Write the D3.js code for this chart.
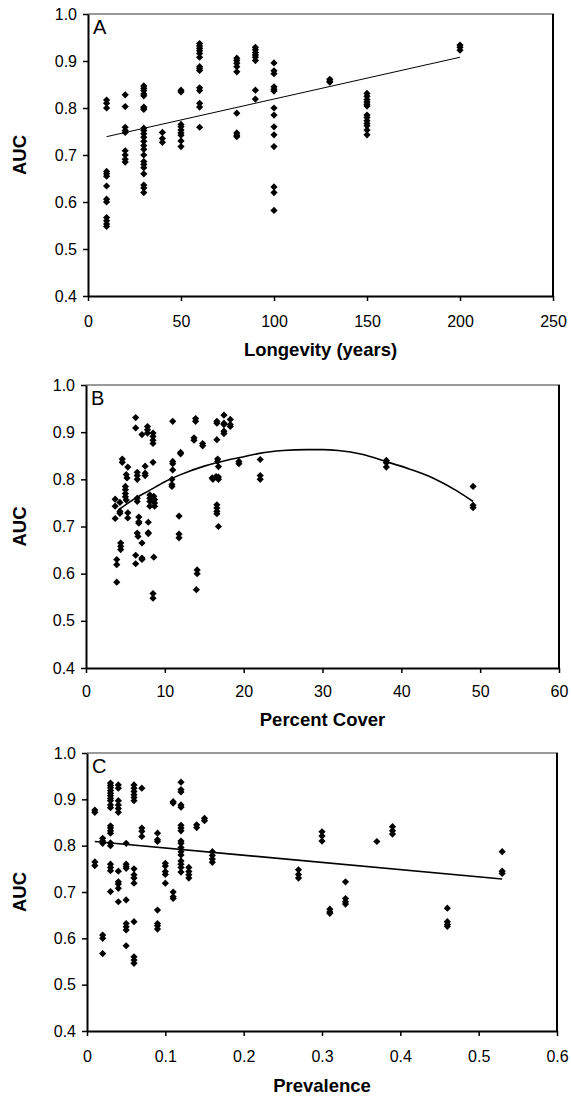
<!DOCTYPE html>
<html>
<head>
<meta charset="utf-8">
<script src="https://cdn.jsdelivr.net/npm/d3@7"></script>
<style>
  html, body { margin: 0; padding: 0; background: #fff; }
  svg { display: block; font-family: Arial, "Liberation Sans", sans-serif; }
</style>
</head>
<body>
<svg id="chart" width="571" height="1097"></svg>
<script>
// ---------- DATA ----------
const yTicks = [0.4, 0.5, 0.6, 0.7, 0.8, 0.9, 1.0];
const yTickLabels = ["0.4", "0.5", "0.6", "0.7", "0.8", "0.9", "1.0"];

// Panel A: Longevity (years)
const aXTicks = [0, 50, 100, 150, 200, 250];
const aXTickLabels = ["0", "50", "100", "150", "200", "250"];
const longevityGroups = [10, 20, 30, 40, 50, 60, 80, 90, 100, 130, 150, 200];
const longevityAUC = [
  [0.817, 0.81, 0.80, 0.665, 0.66, 0.655, 0.634, 0.606, 0.60, 0.567, 0.56, 0.553, 0.548],
  [0.828, 0.803, 0.759, 0.752, 0.748, 0.709, 0.70, 0.691, 0.685],
  [0.847, 0.842, 0.837, 0.83, 0.826, 0.802, 0.80, 0.797, 0.757, 0.752, 0.745, 0.738, 0.729, 0.72, 0.712, 0.70, 0.686, 0.68, 0.673, 0.66, 0.636, 0.63, 0.62],
  [0.748, 0.735, 0.727],
  [0.838, 0.834, 0.765, 0.76, 0.753, 0.747, 0.742, 0.73, 0.718],
  [0.937, 0.932, 0.927, 0.922, 0.916, 0.908, 0.888, 0.884, 0.88, 0.843, 0.837, 0.81, 0.802, 0.759],
  [0.906, 0.901, 0.895, 0.888, 0.877, 0.789, 0.747, 0.742, 0.739],
  [0.929, 0.924, 0.918, 0.913, 0.908, 0.901, 0.838, 0.819],
  [0.896, 0.879, 0.873, 0.845, 0.84, 0.836, 0.80, 0.785, 0.76, 0.743, 0.718, 0.632, 0.62, 0.582],
  [0.861, 0.857, 0.855],
  [0.831, 0.825, 0.818, 0.813, 0.808, 0.804, 0.785, 0.78, 0.773, 0.767, 0.762, 0.753, 0.743],
  [0.934, 0.929, 0.923]
];
const longevityTrend = [[10, 0.739], [200, 0.908]];

// Panel B: Percent Cover
const bXTicks = [0, 10, 20, 30, 40, 50, 60];
const bXTickLabels = ["0", "10", "20", "30", "40", "50", "60"];
const coverPoints = [
  [3.7,0.758],[3.7,0.743],[3.7,0.717],[3.9,0.63],[3.9,0.619],[3.9,0.582],
  [4.3,0.751],[4.3,0.732],[4.3,0.728],[4.6,0.843],[4.6,0.836],[4.4,0.665],[4.4,0.658],[4.4,0.651],
  [5.3,0.826],[5.1,0.81],[5.2,0.803],[5.0,0.785],[5.0,0.778],[5.0,0.77],[5.0,0.763],[5.1,0.756],[5.3,0.729],[5.3,0.718],
  [6.3,0.931],[6.3,0.909],[6.5,0.815],[6.5,0.808],[6.5,0.80],[6.5,0.76],[6.5,0.753],[6.3,0.639],[6.3,0.621],[6.5,0.686],[6.6,0.679],[6.7,0.72],[6.7,0.71],[6.7,0.707],
  [7.1,0.665],[7.1,0.633],[7.1,0.63],[7.1,0.895],[7.5,0.828],[7.5,0.813],[7.5,0.808],[7.8,0.912],[7.8,0.905],[7.8,0.898],[7.9,0.709],[7.9,0.687],[7.9,0.685],
  [8.1,0.767],[8.1,0.76],[8.1,0.753],[8.1,0.743],[8.5,0.898],[8.5,0.891],[8.5,0.883],[8.5,0.876],[8.5,0.836],[8.6,0.764],[8.7,0.757],[8.7,0.75],[8.7,0.743],[8.6,0.635],[8.5,0.558],[8.5,0.548],
  [11.0,0.923],[11.0,0.838],[11.0,0.833],[11.0,0.82],[10.9,0.80],[10.9,0.789],[10.9,0.785],[12.0,0.857],[12.0,0.854],[11.8,0.722],[11.8,0.684],[11.8,0.676],
  [13.9,0.929],[13.9,0.923],[13.7,0.888],[13.7,0.883],[14.1,0.608],[14.1,0.60],[14.0,0.566],[14.8,0.876],[14.8,0.871],
  [16.0,0.803],[16.1,0.80],[16.5,0.806],[16.6,0.923],[16.6,0.919],[16.6,0.884],[16.7,0.843],[16.7,0.838],[16.8,0.827],[16.8,0.805],[16.8,0.80],[16.6,0.746],[16.6,0.739],[16.6,0.732],[16.6,0.727],[16.8,0.70],
  [17.5,0.936],[17.5,0.919],[17.5,0.916],[17.5,0.902],[17.5,0.897],[18.3,0.927],[18.3,0.916],[18.3,0.912],[19.4,0.838],[19.4,0.833],[22.1,0.842],[22.1,0.808],[22.1,0.80],
  [38.1,0.84],[38.1,0.835],[38.1,0.826],[49.1,0.785],[49.1,0.745],[49.1,0.74]
];
const coverTrend = [
  [4.1,0.735],[6,0.757],[8,0.776],[10,0.795],[12,0.81],[15,0.828],[18,0.841],[20,0.848],
  [22,0.855],[25,0.861],[28,0.863],[30,0.863],[32,0.861],[35,0.853],[38,0.838],[41,0.822],
  [44,0.803],[47,0.776],[49.1,0.753]
];

// Panel C: Prevalence
const cXTicks = [0, 0.1, 0.2, 0.3, 0.4, 0.5, 0.6];
const cXTickLabels = ["0", "0.1", "0.2", "0.3", "0.4", "0.5", "0.6"];
const prevalenceGroups = [0.01, 0.02, 0.03, 0.04, 0.05, 0.06, 0.07, 0.09, 0.10, 0.11, 0.12, 0.13, 0.14, 0.15, 0.16, 0.27, 0.30, 0.31, 0.33, 0.37, 0.39, 0.46, 0.53];
const prevalenceAUC = [
  [0.877, 0.872, 0.765, 0.757],
  [0.816, 0.81, 0.805, 0.607, 0.60, 0.567],
  [0.935, 0.93, 0.925, 0.919, 0.913, 0.908, 0.902, 0.897, 0.888, 0.882, 0.843, 0.838, 0.832, 0.827, 0.806, 0.80, 0.76, 0.753, 0.746, 0.701],
  [0.931, 0.924, 0.897, 0.888, 0.88, 0.872, 0.745, 0.722, 0.717, 0.708, 0.679],
  [0.805, 0.76, 0.755, 0.751, 0.683, 0.632, 0.625, 0.618, 0.584],
  [0.931, 0.924, 0.917, 0.91, 0.904, 0.897, 0.75, 0.737, 0.73, 0.719, 0.636, 0.56, 0.553, 0.546],
  [0.924, 0.838, 0.831, 0.82],
  [0.827, 0.813, 0.809, 0.661, 0.632, 0.627, 0.62],
  [0.762, 0.756, 0.744, 0.738, 0.719],
  [0.895, 0.892, 0.70, 0.69, 0.686],
  [0.937, 0.921, 0.916, 0.888, 0.883, 0.844, 0.838, 0.832, 0.81, 0.805, 0.796, 0.787, 0.78, 0.767, 0.76, 0.753, 0.743],
  [0.753, 0.744, 0.737, 0.73],
  [0.845, 0.839],
  [0.859, 0.854],
  [0.787, 0.779, 0.771, 0.764],
  [0.748, 0.738, 0.73],
  [0.83, 0.821, 0.81],
  [0.663, 0.657, 0.654],
  [0.722, 0.686, 0.679, 0.674],
  [0.809],
  [0.841, 0.832, 0.825],
  [0.665, 0.636, 0.63, 0.626],
  [0.787, 0.745, 0.74]
];
const prevalenceTrend = [[0.01, 0.809], [0.53, 0.728]];

// ---------- DRAW ----------
const svg = d3.select("#chart");
const diamond = "M0,-3.6L3.6,0L0,3.6L-3.6,0Z";

function expand(groups, values) {
  const out = [];
  groups.forEach((g, i) => values[i].forEach(v => out.push([g, v])));
  return out;
}

function drawPanel(cfg) {
  const x = d3.scaleLinear().domain([0, cfg.xMax]).range([cfg.left, cfg.right]);
  const y = d3.scaleLinear().domain([0.4, 1.0]).range([cfg.bottom, cfg.top]);
  const g = svg.append("g");

  // frame: top (gray) and right (black)
  g.append("line").attr("x1", cfg.left).attr("x2", cfg.right + 1)
    .attr("y1", cfg.top).attr("y2", cfg.top)
    .attr("stroke", "#9a9a9a").attr("stroke-width", 2);
  g.append("line").attr("x1", cfg.right).attr("x2", cfg.right)
    .attr("y1", cfg.top).attr("y2", cfg.bottom)
    .attr("stroke", "#000").attr("stroke-width", 2);

  // y axis
  const ya = g.append("g").attr("transform", `translate(${cfg.left},0)`)
    .call(d3.axisLeft(y).tickValues(yTicks).tickFormat((d, i) => yTickLabels[i])
      .tickSize(5).tickSizeOuter(0).tickPadding(6));
  ya.select(".domain").attr("stroke-width", 2).attr("stroke", "#000");
  ya.selectAll(".tick line").attr("stroke-width", 1.5).attr("stroke", "#000");
  ya.selectAll(".tick text").attr("font-size", 16).attr("fill", "#000")
    .attr("font-family", "Arial, 'Liberation Sans', sans-serif");

  // x axis
  const xa = g.append("g").attr("transform", `translate(0,${cfg.bottom})`)
    .call(d3.axisBottom(x).tickValues(cfg.xTicks).tickFormat((d, i) => cfg.xLabels[i])
      .tickSize(5).tickSizeOuter(0));
  xa.select(".domain").attr("stroke-width", 2).attr("stroke", "#000");
  xa.selectAll(".tick line").attr("stroke-width", 1.5).attr("stroke", "#000");
  xa.selectAll(".tick text").attr("font-size", 16).attr("fill", "#000")
    .attr("font-family", "Arial, 'Liberation Sans', sans-serif")
    .attr("dy", null).attr("y", cfg.tickBase);

  // panel letter
  g.append("text").attr("x", cfg.left + 5).attr("y", cfg.top + 20)
    .attr("font-size", 20).text(cfg.letter);

  // axis titles
  g.append("text").attr("x", (cfg.left + cfg.right) / 2).attr("y", cfg.bottom + cfg.titleBase)
    .attr("text-anchor", "middle").attr("font-size", 18.5).attr("font-weight", "bold")
    .text(cfg.xTitle);
  g.append("text")
    .attr("transform", `translate(26,${(cfg.top + cfg.bottom) / 2}) rotate(-90)`)
    .attr("text-anchor", "middle").attr("font-size", 18.5).attr("font-weight", "bold")
    .text("AUC");

  // trend line
  const line = d3.line().x(d => x(d[0])).y(d => y(d[1]));
  if (cfg.curve) line.curve(d3.curveMonotoneX);
  g.append("path").datum(cfg.trend).attr("d", line)
    .attr("fill", "none").attr("stroke", "#000").attr("stroke-width", cfg.trendWidth);

  // points
  g.append("g").selectAll("path").data(cfg.points).join("path")
    .attr("d", diamond)
    .attr("transform", d => `translate(${x(d[0])},${y(d[1])})`)
    .attr("fill", "#000");
}

drawPanel({
  letter: "A", left: 88, right: 553, top: 14, bottom: 296, xMax: 250,
  xTicks: aXTicks, xLabels: aXTickLabels, tickBase: 31, titleBase: 60,
  xTitle: "Longevity (years)", trend: longevityTrend, trendWidth: 1,
  points: expand(longevityGroups, longevityAUC)
});
drawPanel({
  letter: "B", left: 86, right: 559, top: 385, bottom: 668, xMax: 60,
  xTicks: bXTicks, xLabels: bXTickLabels, tickBase: 29, titleBase: 58,
  xTitle: "Percent Cover", trend: coverTrend, trendWidth: 1.6, curve: true,
  points: coverPoints
});
drawPanel({
  letter: "C", left: 87, right: 557, top: 753, bottom: 1031, xMax: 0.6,
  xTicks: cXTicks, xLabels: cXTickLabels, tickBase: 31, titleBase: 61,
  xTitle: "Prevalence", trend: prevalenceTrend, trendWidth: 1.6,
  points: expand(prevalenceGroups, prevalenceAUC)
});
</script>
</body>
</html>
